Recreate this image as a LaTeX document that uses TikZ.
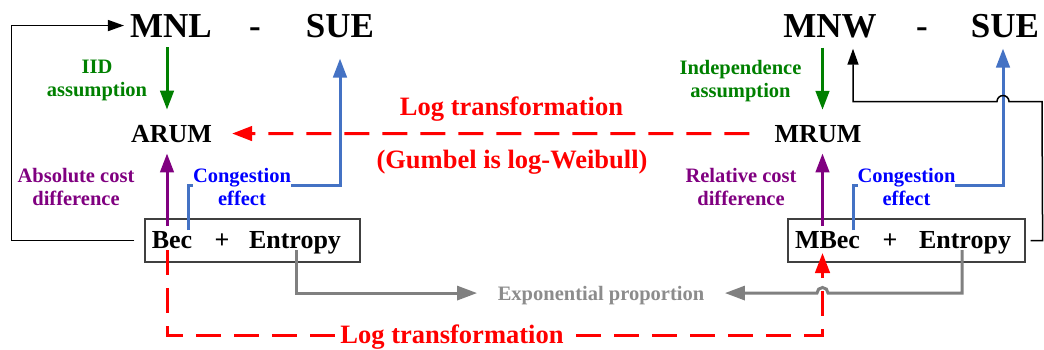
\documentclass[tikz,border=0pt]{standalone}
\usepackage{fontspec}
\setmainfont{Liberation Serif}
\usetikzlibrary{arrows.meta,calc}
\definecolor{cgreen}{RGB}{0,128,0}
\definecolor{cpurple}{RGB}{128,0,128}
\definecolor{cblue}{RGB}{0,0,255}
\definecolor{csteel}{RGB}{68,114,196}
\definecolor{cred}{RGB}{255,0,0}
\definecolor{cgrey}{RGB}{128,128,128}
\definecolor{cgreytext}{RGB}{140,140,140}
\definecolor{cbox}{RGB}{64,64,64}
\begin{document}
\begin{tikzpicture}[x=1pt,y=-1pt,
  big/.style={inner sep=0pt, anchor=base, font=\fontsize{35}{40}\selectfont\bfseries},
  mid/.style={inner sep=0pt, anchor=base, font=\fontsize{26}{30}\selectfont\bfseries},
  small/.style={inner sep=0pt, anchor=base, font=\fontsize{20.5}{23}\selectfont\bfseries},
  lab/.style={inner sep=0pt, align=center, font=\fontsize{20.5}{23}\selectfont\bfseries},
  redtxt/.style={inner sep=0pt, anchor=base, text=cred, font=\fontsize{26.5}{30}\selectfont\bfseries},
  framebox/.style={draw=cbox, line width=1.2pt, inner sep=0pt},
  thick arrow/.style={line width=3pt, -{Triangle[length=19pt,width=13.5pt]}},
  greenarrow/.style={thick arrow, draw=cgreen},
  purplearrow/.style={thick arrow, draw=cpurple},
  bluearrow/.style={thick arrow, draw=csteel},
  blackarrow/.style={line width=1.5pt, draw=black, -{Triangle[length=16pt,width=11pt]}},
  greyarrow/.style={line width=3pt, draw=cgrey, -{Triangle[length=20pt,width=14pt]}},
  reddash/.style={line width=3pt, draw=cred, dash pattern=on 25pt off 13pt,
                  -{Triangle[length=20pt,width=14.5pt]}},
]
\useasboundingbox (0,0) rectangle (1044,349);

% ---- titles
\node[big] (mnl)  at (171,37)  {MNL};
\node[big] (dl)   at (255,37)  {-};
\node[big] (suel) at (340,37)  {SUE};
\node[big] (mnw)  at (830,37)  {MNW};
\node[big] (dr)   at (922,37)  {-};
\node[big] (suer) at (1005,37) {SUE};

% ---- random utility models
\node[mid] (arum) at (171.5,142) {ARUM};
\node[mid] (mrum) at (818,142)   {MRUM};

% ---- objective boxes
\node[framebox, minimum width=215pt, minimum height=43pt] (boxl) at (252.5,240.5) {};
\node[mid] (bec)   at (172,248) {Bec};
\node[mid] (plusl) at (222,248) {+};
\node[mid] (entl)  at (295,248) {Entropy};

\node[framebox, minimum width=237pt, minimum height=43pt] (boxr) at (906.5,240.5) {};
\node[mid] (mbec)  at (827.5,248) {MBec};
\node[mid] (plusr) at (890,248)   {+};
\node[mid] (entr)  at (965,248)   {Entropy};

% ---- side labels
\node[lab, text=cgreen]  (iid)   at (97,80.8)    {IID\\assumption};
\node[lab, text=cgreen]  (indep) at (740.5,80.7) {Independence\\assumption};
\node[lab, text=cpurple] (absd)  at (76,186.5)   {Absolute cost\\difference};
\node[lab, text=cpurple] (reld)  at (741,186.5)  {Relative cost\\difference};

% ---- assumptions
\draw[greenarrow] ($(mnl.south)+(-4,10)$) -- ($(arum.north)+(-4.5,-15)$);
\draw[greenarrow] ($(mnw.south)+(-7.5,10)$) -- ($(mrum.north)+(4.5,-15)$);

% ---- cost differences
\draw[purplearrow] ($(bec.base)+(-5,-22)$) -- ($(arum.south)+(-4.5,11)$);
\draw[purplearrow] ($(mbec.base)+(-5,-22)$) -- ($(mrum.south)+(4.5,11)$);

% ---- congestion effect
\draw[bluearrow] ($(bec.base)+(16,-18)$) |- ($(suel.south)+(0,148)$) -- ($(suel.south)+(0,21)$);
\node[lab, text=cblue, fill=white] (congl) at (242,186.5) {Congestion\\effect};
\draw[bluearrow] ($(mbec.base)+(25.5,-18)$) |- ($(suer.south)+(-2,148)$) -- ($(suer.south)+(-2,11)$);
\node[lab, text=cblue, fill=white] (congr) at (906.5,186.5) {Congestion\\effect};

% ---- feedback loops to the equilibria
\draw[blackarrow] ($(boxl.west)+(-10,0)$) -- ++(-123,0) |- ($(mnl.west)+(-6,0)$);
\draw[blackarrow] ($(boxr.east)+(5,0)$) -- ++(12,0) -- ($(suer.south)+(37,64)$)
  -- ($(suer.south)+(4,64)$) arc[start angle=0,end angle=-180,radius=6]
  -- ($(mnw.south)+(23,64)$) -- ($(mnw.south)+(23,11)$);

% ---- log transformations
\node[redtxt] (logt) at (511.5,115) {Log transformation};
\node[redtxt] (gumb) at (512,168)   {(Gumbel is log-Weibull)};
\draw[reddash] ($(mrum.west)+(-25,0)$) -- ($(arum.east)+(20,0)$);

\draw[reddash] ($(bec.base)+(-5,2)$) -- ++(0,85) -| ($(mbec.base)+(-5,5)$);
\node[redtxt, fill=white, inner sep=1pt] (logb) at (452,343) {Log transformation};

% ---- exponential proportion
\node[small, text=cgreytext] (expo) at (601,300) {Exponential proportion};
\draw[greyarrow] ($(entl.base)+(1,2)$) |- ($(expo.west)+(-20.5,-2)$);
\draw[greyarrow] ($(entr.base)+(-3,2)$) -- ++(0,43)
  -- ($(mbec.base)+(0.5,45)$) arc[start angle=0,end angle=-180,radius=5.5]
  -- ($(expo.east)+(20.5,-2)$);
\end{tikzpicture}
\end{document}
